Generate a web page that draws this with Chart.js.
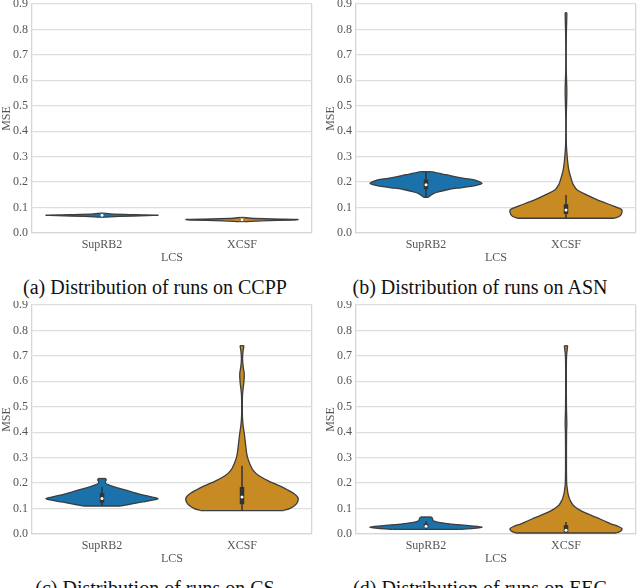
<!DOCTYPE html>
<html>
<head>
<meta charset="utf-8">
<script src="https://cdn.jsdelivr.net/npm/chart.js@4.4.1/dist/chart.umd.min.js"></script>
<style>
  html, body { margin: 0; padding: 0; background: #fff; }
  body { width: 640px; height: 588px; position: relative; overflow: hidden; }
  .panel { position: absolute; width: 316px; height: 270px; }
  .caption { position: absolute; width: 316px; text-align: center; font-family: 'Liberation Serif', serif; font-size: 20px; color: #111; line-height: 24px; white-space: nowrap; }
</style>
</head>
<body>
<div class="panel" style="left:0;top:0"><canvas id="ccpp"></canvas></div>
<div class="panel" style="left:324px;top:0"><canvas id="asn"></canvas></div>
<div class="panel" style="left:0;top:301px"><canvas id="cs"></canvas></div>
<div class="panel" style="left:324px;top:301px"><canvas id="eec"></canvas></div>
<div class="caption" style="left:-3px;top:275px">(a) Distribution of runs on CCPP</div>
<div class="caption" style="left:322px;top:275px">(b) Distribution of runs on ASN</div>
<div class="caption" style="left:-3px;top:576px">(c) Distribution of runs on CS</div>
<div class="caption" style="left:322px;top:576px">(d) Distribution of runs on EEC</div>
<script>
// categories and axis
const categories = ['SupRB2', 'XCSF'];
const yTicks = [0, 0.1, 0.2, 0.3, 0.4, 0.5, 0.6, 0.7, 0.8, 0.9];

// violin outlines: MSE levels and relative half-width (1 = widest)
// (a) CCPP
const ccppSupMse   = [0.062, 0.065, 0.068, 0.070, 0.072, 0.075, 0.078];
const ccppSupWidth = [0.05, 0.3, 0.8, 1.0, 0.6, 0.15, 0.03];
const ccppXcsfMse   = [0.045, 0.048, 0.051, 0.053, 0.055, 0.058, 0.061];
const ccppXcsfWidth = [0.05, 0.35, 0.9, 1.0, 0.55, 0.15, 0.03];
// (b) ASN
const asnSupMse   = [0.140, 0.147, 0.155, 0.162, 0.169, 0.176, 0.182, 0.189, 0.195, 0.202, 0.209, 0.215, 0.222, 0.229, 0.235, 0.241];
const asnSupWidth = [0.04, 0.08, 0.13, 0.22, 0.36, 0.55, 0.77, 0.93, 1.0, 0.95, 0.86, 0.68, 0.51, 0.36, 0.22, 0.1];
const asnXcsfMse   = [0.058, 0.065, 0.075, 0.09, 0.10, 0.11, 0.12, 0.13, 0.15, 0.169, 0.19, 0.208, 0.23, 0.248, 0.28, 0.326, 0.36, 0.40, 0.45, 0.52, 0.56, 0.60, 0.65, 0.70, 0.78, 0.83, 0.866];
const asnXcsfWidth = [0.87, 0.95, 0.99, 1.0, 0.92, 0.8, 0.68, 0.56, 0.37, 0.2, 0.13, 0.1, 0.07, 0.05, 0.03, 0.012, 0.005, 0.003, 0.004, 0.012, 0.015, 0.01, 0.004, 0.003, 0.006, 0.012, 0.015];
// (c) CS
const csSupMse   = [0.110, 0.115, 0.12, 0.126, 0.133, 0.139, 0.145, 0.155, 0.165, 0.175, 0.185, 0.193, 0.20, 0.205, 0.212, 0.218];
const csSupWidth = [0.33, 0.45, 0.58, 0.72, 0.9, 1.0, 0.9, 0.7, 0.54, 0.38, 0.22, 0.12, 0.06, 0.06, 0.075, 0.07];
const csXcsfMse   = [0.092, 0.10, 0.11, 0.125, 0.143, 0.16, 0.175, 0.192, 0.21, 0.231, 0.25, 0.27, 0.30, 0.322, 0.35, 0.388, 0.427, 0.46, 0.50, 0.55, 0.60, 0.63, 0.66, 0.69, 0.72, 0.74];
const csXcsfWidth = [0.74, 0.85, 0.93, 0.99, 1.0, 0.92, 0.8, 0.64, 0.46, 0.29, 0.2, 0.15, 0.1, 0.08, 0.065, 0.045, 0.02, 0.008, 0.006, 0.01, 0.035, 0.04, 0.02, 0.01, 0.02, 0.035];
// (d) EEC
const eecSupMse   = [0.018, 0.022, 0.027, 0.032, 0.037, 0.042, 0.047, 0.052, 0.058, 0.063, 0.067];
const eecSupWidth = [0.6, 0.85, 1.0, 0.8, 0.55, 0.35, 0.2, 0.13, 0.12, 0.11, 0.1];
const eecXcsfMse   = [0.004, 0.012, 0.021, 0.03, 0.04, 0.05, 0.06, 0.07, 0.08, 0.09, 0.1, 0.115, 0.13, 0.14, 0.155, 0.166, 0.2, 0.3, 0.4, 0.43, 0.5, 0.6, 0.7, 0.74];
const eecXcsfWidth = [0.9, 0.98, 1.0, 0.93, 0.8, 0.7, 0.6, 0.48, 0.38, 0.28, 0.2, 0.12, 0.08, 0.06, 0.04, 0.03, 0.012, 0.008, 0.01, 0.015, 0.008, 0.006, 0.01, 0.03];

// inner boxes: [whisker low, q1, median, q3, whisker high]
const ccppSupBox  = [0.064, 0.068, 0.070, 0.072, 0.077];
const ccppXcsfBox = [0.046, 0.050, 0.052, 0.054, 0.058];
const asnSupBox   = [0.140, 0.172, 0.190, 0.210, 0.241];
const asnXcsfBox  = [0.058, 0.075, 0.090, 0.113, 0.149];
const csSupBox    = [0.110, 0.123, 0.140, 0.161, 0.185];
const csXcsfBox   = [0.092, 0.117, 0.145, 0.185, 0.268];
const eecSupBox   = [0.018, 0.025, 0.030, 0.040, 0.050];
const eecXcsfBox  = [0.004, 0.007, 0.015, 0.035, 0.047];

const colors = ['#1b72ab', '#c88a22'];
const outline = '#3d3d3d';
const frame = '#d6d6d6';

Chart.defaults.font.family = "'Liberation Serif', serif";
Chart.defaults.font.size = 12;
Chart.defaults.color = '#555';

// datasets are drawn highest order first, so fills get the largest order
function violin(center, mse, width, box, color) {
  const half = 0.4;
  const side = (sign) => mse.map((v, i) => ({ x: center + sign * half * width[i], y: v }));
  const line = { borderColor: outline, borderWidth: 1.3, pointRadius: 0, fill: false, order: 2 };
  const n = mse.length - 1;
  return [
    Object.assign({}, line, { data: side(-1), fill: '+1', backgroundColor: color, tension: 0.3, order: 3 }),
    Object.assign({}, line, { data: side(1), tension: 0.3 }),
    Object.assign({}, line, { data: [{ x: center - half * width[0], y: mse[0] }, { x: center + half * width[0], y: mse[0] }] }),
    Object.assign({}, line, { data: [{ x: center - half * width[n], y: mse[n] }, { x: center + half * width[n], y: mse[n] }] }),
    { data: [{ x: center, y: box[0] }, { x: center, y: box[4] }], borderColor: '#333', borderWidth: 1.5, pointRadius: 0, fill: false, order: 1 },
    { data: [{ x: center, y: box[1] }, { x: center, y: box[3] }], borderColor: '#333', borderWidth: 4.5, borderCapStyle: 'butt', pointRadius: 0, fill: false, order: 1 },
    { data: [{ x: center, y: box[2] }], showLine: false, pointRadius: 1.5, pointBackgroundColor: '#fff', pointBorderWidth: 0, fill: false, order: 0 }
  ];
}

function drawPanel(id, supMse, supWidth, supBox, xcsfMse, xcsfWidth, xcsfBox) {
  new Chart(document.getElementById(id), {
    type: 'line',
    data: {
      datasets: [
        ...violin(0, supMse, supWidth, supBox, colors[0]),
        ...violin(1, xcsfMse, xcsfWidth, xcsfBox, colors[1])
      ]
    },
    options: {
      indexAxis: 'y',
      responsive: true,
      maintainAspectRatio: false,
      animation: false,
      layout: { padding: { top: 4, right: 2, left: 0, bottom: 0 } },
      plugins: { legend: { display: false }, tooltip: { enabled: false } },
      scales: {
        x: {
          type: 'linear',
          min: -0.5,
          max: 1.5,
          afterBuildTicks: (scale) => {
            scale.ticks = [{ value: -0.5 }, { value: 0 }, { value: 1 }, { value: 1.5 }];
          },
          afterFit: (scale) => { scale.height = 37; scale.paddingLeft = 0; scale.paddingRight = 0; },
          ticks: {
            autoSkip: false,
            maxRotation: 0,
            padding: 5,
            callback: (v) => v === 0 ? categories[0] : (v === 1 ? categories[1] : '')
          },
          grid: {
            drawTicks: false,
            lineWidth: 1.3,
            color: (ctx) => ctx.tick && ctx.tick.value === 1.5 ? frame : 'transparent'
          },
          border: { color: frame, width: 1.3 },
          title: { display: true, text: 'LCS', padding: { top: 0, bottom: 5 } }
        },
        y: {
          type: 'linear',
          min: 0,
          max: 0.9,
          afterBuildTicks: (scale) => { scale.ticks = yTicks.map(v => ({ value: v })); },
          afterFit: (scale) => { scale.width = 32; scale.paddingTop = 0; scale.paddingBottom = 0; },
          ticks: { padding: 4, callback: (v) => v.toFixed(1) },
          grid: { drawTicks: false, color: '#dedede', lineWidth: 1.3 },
          border: { color: frame, width: 1.3 },
          title: { display: true, text: 'MSE', padding: 0 }
        }
      }
    }
  });
}

drawPanel('ccpp', ccppSupMse, ccppSupWidth, ccppSupBox, ccppXcsfMse, ccppXcsfWidth, ccppXcsfBox);
drawPanel('asn', asnSupMse, asnSupWidth, asnSupBox, asnXcsfMse, asnXcsfWidth, asnXcsfBox);
drawPanel('cs', csSupMse, csSupWidth, csSupBox, csXcsfMse, csXcsfWidth, csXcsfBox);
drawPanel('eec', eecSupMse, eecSupWidth, eecSupBox, eecXcsfMse, eecXcsfWidth, eecXcsfBox);
</script>
</body>
</html>
